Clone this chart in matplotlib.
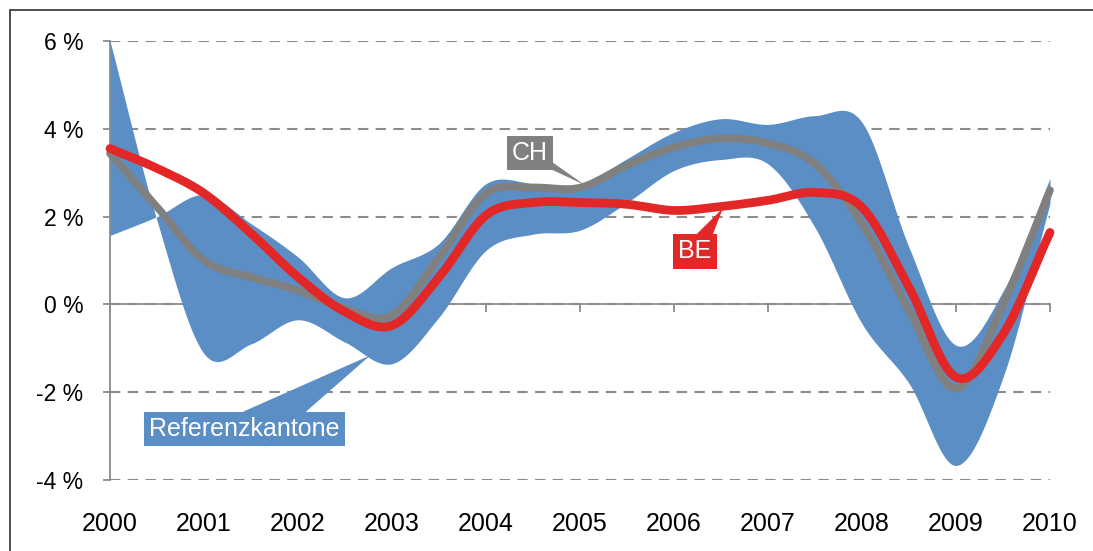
import numpy as np
import matplotlib
matplotlib.use("Agg")
import matplotlib.pyplot as plt
from matplotlib.patches import Rectangle

plt.rcParams['font.family'] = ['Liberation Sans', 'DejaVu Sans']

# half-year points, 2000 .. 2010
years = np.arange(2000, 2010.01, 0.5)
year_labels = [str(y) for y in range(2000, 2011)]

ch = [3.44, 2.22, 1.00, 0.62, 0.32, -0.10, -0.25, 1.07, 2.53, 2.66, 2.66,
      3.17, 3.58, 3.78, 3.67, 3.20, 1.84, -0.14, -1.92, 0.00, 2.60]
be = [3.55, 3.10, 2.53, 1.62, 0.62, -0.17, -0.48, 0.62, 2.03, 2.32, 2.32,
      2.28, 2.14, 2.23, 2.37, 2.55, 2.21, 0.39, -1.66, -0.68, 1.64]
# the two edges of the band of reference cantons
ref_a = [6.00, 1.91, -1.12, -0.90, -0.35, -0.86, -1.35, -0.29, 1.23, 1.60, 1.69,
         2.32, 3.05, 3.30, 3.20, 1.75, -0.44, -1.80, -3.67, -1.66, 2.30]
ref_b = [1.57, 2.00, 2.50, 1.84, 1.08, 0.15, 0.84, 1.39, 2.75, 2.76, 2.71,
         3.32, 3.92, 4.23, 4.10, 4.30, 4.15, 1.30, -0.93, 0.30, 2.87]

y_ticks = [-4, -2, 0, 2, 4, 6]

blue = '#5b8ec5'
grey = '#808080'
red = '#e32626'


def smooth(v, n=24):
    # catmull-rom spline through the points, like excel's smoothed lines
    v = np.asarray(v, dtype=float)
    p = np.concatenate([[2 * v[0] - v[1]], v, [2 * v[-1] - v[-2]]])
    t = np.linspace(0, 1, n, endpoint=False)
    out = []
    for i in range(1, len(p) - 2):
        p0, p1, p2, p3 = p[i - 1:i + 3]
        out.append(0.5 * (2 * p1 + (-p0 + p2) * t
                          + (2 * p0 - 5 * p1 + 4 * p2 - p3) * t ** 2
                          + (-p0 + 3 * p1 - 3 * p2 + p3) * t ** 3))
    out.append([v[-1]])
    return np.concatenate(out)


def callout(ax, text, tip, box, color, width, pad, dx=0.0):
    # wedge from the label box to the line, then the box on top
    ax.annotate('', xy=tip, xytext=(box[0] + dx, box[1]), zorder=6,
                arrowprops=dict(arrowstyle=f'wedge,tail_width={width}', mutation_scale=1,
                                fc=color, ec='none', shrinkA=0, shrinkB=0))
    ax.text(box[0], box[1], text, color='white', fontsize=18, ha='center', va='center',
            zorder=7, bbox=dict(boxstyle=f'square,pad={pad}', fc=color, ec='none'))


fig = plt.figure(figsize=(10.93, 5.51), dpi=100)
ax = fig.add_axes([110 / 1093, 1 - 480 / 551, 940 / 1093, 439 / 551])

xs = smooth(years)
ax.fill_between(xs, smooth(ref_a), smooth(ref_b), color=blue, lw=0, zorder=3)
ax.plot(xs, smooth(ch), color=grey, lw=5.5, solid_capstyle='round', zorder=4, clip_on=False)
ax.plot(xs, smooth(be), color=red, lw=6.3, solid_capstyle='round', zorder=5, clip_on=False)

ax.set_xlim(2000, 2010)
ax.set_ylim(-4, 6)
ax.set_axisbelow(True)

ax.set_yticks(y_ticks)
ax.set_yticklabels([f"{v} %" for v in y_ticks])
ax.yaxis.grid(True, linestyle=(0, (5, 3.5)), color='#8c8c8c', lw=1.5)
ax.tick_params(axis='y', length=5, width=1.3, color='#8c8c8c', pad=14, labelsize=16.5)

ax.set_xticks(range(2000, 2011))
ax.tick_params(axis='x', direction='out', length=6, width=1.3, color='#8c8c8c', labelbottom=False)

for s in ['top', 'right']:
    ax.spines[s].set_visible(False)
ax.spines['bottom'].set_position(('data', 0))
for s in ['left', 'bottom']:
    ax.spines[s].set_color('#8c8c8c')
    ax.spines[s].set_linewidth(1.3)
    ax.spines[s].set_zorder(0.5)

sec = ax.secondary_xaxis('bottom')
sec.set_xticks(range(2000, 2011))
sec.set_xticklabels(year_labels)
sec.tick_params(length=0, pad=23, labelsize=18)
sec.spines['bottom'].set_visible(False)

callout(ax, 'CH', (2005.05, 2.72), (2004.47, 3.44), grey, 8, 0.2)
callout(ax, 'BE', (2006.52, 2.19), (2006.22, 1.21), red, 16, 0.22)
callout(ax, 'Referenzkantone', (2002.77, -1.16), (2001.43, -2.84), blue, 30, 0.2, dx=0.11)

# frame around the whole chart
fig.patches.append(Rectangle((10 / 1093, -0.1), 1.2, (541 / 551) + 0.1,
                             transform=fig.transFigure, fill=False,
                             ec='#404040', lw=1.3))

fig.savefig('out.png', dpi=100)
